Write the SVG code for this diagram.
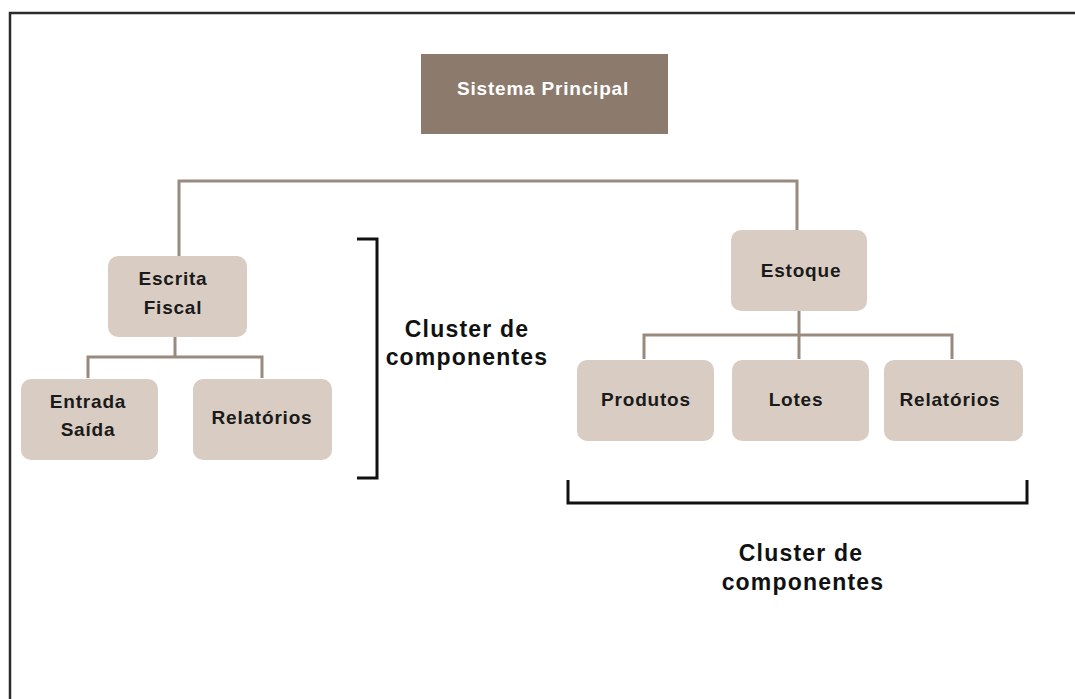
<svg xmlns="http://www.w3.org/2000/svg" width="1075" height="699" viewBox="0 0 1075 699">
  <style>
    .frame { fill: none; stroke: #2b2b2b; stroke-width: 2.5; }
    .main { fill: #8c7b6d; }
    .box { fill: #d9cdc3; }
    .link { fill: none; stroke: #9a8a7e; stroke-width: 3; }
    .bracket { fill: none; stroke: #111; stroke-width: 3; }
    .t { font-family: "Liberation Sans", Arial, sans-serif; font-weight: bold; font-size: 19px; letter-spacing: 0.8px; text-anchor: middle; fill: #1a1a1a; }
    .tw { fill: #ffffff; }
    .cl { font-family: "Liberation Sans", Arial, sans-serif; font-weight: bold; font-size: 23px; letter-spacing: 1.2px; text-anchor: middle; fill: #111; }
  </style>
  <rect width="1075" height="699" fill="#ffffff"/>
  <!-- outer frame (open at right and bottom) -->
  <path class="frame" d="M10,699 V13 H1075"/>

  <!-- connectors -->
  <g id="connectors">
    <path class="link" d="M179,256 V181 H797 V230"/>
    <path class="link" d="M175,337 V357 M88,378 V357 H262 V378"/>
    <path class="link" d="M799,311 V359 M644,359 V335 H952 V359"/>
  </g>

  <g id="sistema-principal">
    <rect class="main" x="421" y="54" width="247" height="80"/>
    <text class="t tw" x="543" y="95">Sistema Principal</text>
  </g>

  <g id="escrita-fiscal">
    <rect class="box" x="108" y="256" width="139" height="81" rx="10"/>
    <text class="t" x="173" y="285">Escrita</text>
    <text class="t" x="173" y="314">Fiscal</text>
  </g>
  <g id="entrada-saida">
    <rect class="box" x="21" y="379" width="137" height="81" rx="10"/>
    <text class="t" x="88" y="408">Entrada</text>
    <text class="t" x="88" y="436">Saída</text>
  </g>
  <g id="relatorios-fiscal">
    <rect class="box" x="193" y="379" width="139" height="81" rx="10"/>
    <text class="t" x="262" y="424">Relatórios</text>
  </g>

  <g id="estoque">
    <rect class="box" x="731" y="230" width="136" height="81" rx="10"/>
    <text class="t" x="801" y="277">Estoque</text>
  </g>
  <g id="produtos">
    <rect class="box" x="577" y="360" width="137" height="81" rx="10"/>
    <text class="t" x="646" y="406">Produtos</text>
  </g>
  <g id="lotes">
    <rect class="box" x="732" y="360" width="137" height="81" rx="10"/>
    <text class="t" x="796" y="406">Lotes</text>
  </g>
  <g id="relatorios-estoque">
    <rect class="box" x="884" y="360" width="139" height="81" rx="10"/>
    <text class="t" x="950" y="406">Relatórios</text>
  </g>

  <g id="cluster-escrita">
    <path class="bracket" d="M357,239 H377 V478 H357"/>
    <text class="cl" x="467" y="337">Cluster de</text>
    <text class="cl" x="467" y="365">componentes</text>
  </g>
  <g id="cluster-estoque">
    <path class="bracket" d="M568,480 V503 H1027 V480"/>
    <text class="cl" x="801" y="561">Cluster de</text>
    <text class="cl" x="803" y="590">componentes</text>
  </g>
</svg>
